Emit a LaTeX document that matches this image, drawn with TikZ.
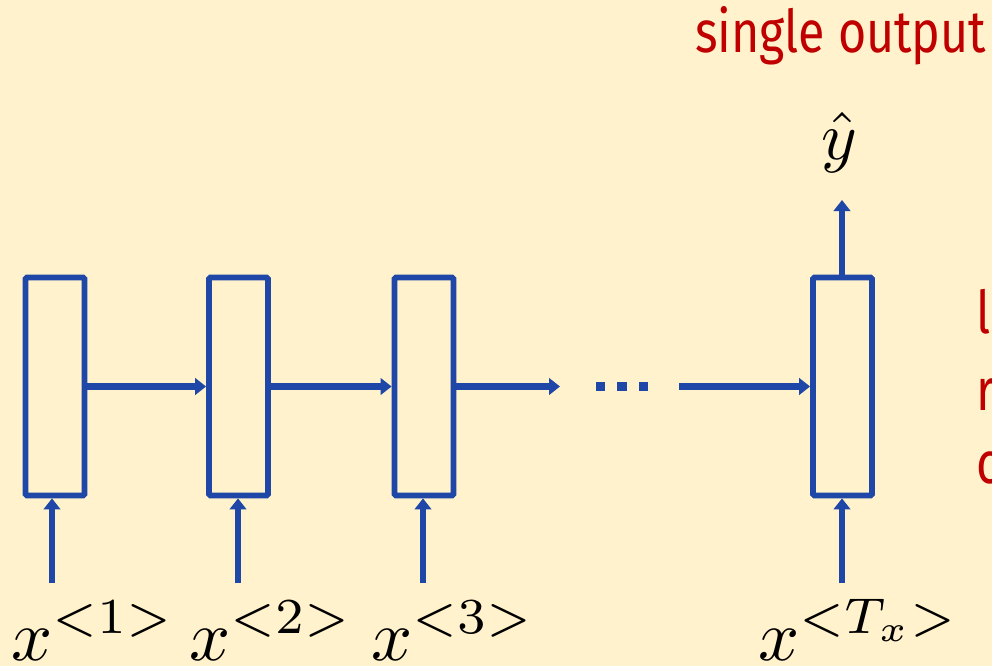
\documentclass[tikz,border=0pt]{standalone}
\usepackage{fontspec}
\newfontfamily\notefont[FakeStretch=0.82]{Fira Sans}
\usetikzlibrary{arrows.meta}
\definecolor{bgcream}{HTML}{FFF2CC}
\definecolor{rnnblue}{HTML}{1F47A8}
\definecolor{notered}{HTML}{C00000}
\begin{document}
\begin{tikzpicture}[x=1pt,y=-1pt,
  cell/.style={draw=rnnblue,line width=5.8pt,rounded corners=1.5pt,minimum width=59pt,minimum height=218pt,inner sep=0pt},
  flow/.style={draw=rnnblue,line width=6.2pt,-{Triangle[length=11pt,width=16.5pt]}},
  mathlbl/.style={inner sep=0pt,scale=7.2,anchor=base west},
  note/.style={text=notered,inner sep=0pt,anchor=base west,font=\notefont\fontsize{59}{70}\selectfont}]
\fill[bgcream] (0,0) rectangle (992,666);
\useasboundingbox (0,0) rectangle (992,666);
\clip (0,0) rectangle (992,666);

\node[cell] (b1) at (55,386.5) {};
\node[cell] (b2) at (238.5,386.5) {};
\node[cell] (b3) at (424,386.5) {};
\node[cell] (b4) at (842.5,386.5) {};

\draw[flow] (b1.east) -- (b2.west);
\draw[flow] (b2.east) -- (b3.west);
\coordinate (gapL) at (560,386.5);
\coordinate (gapR) at (679,386.5);
\draw[flow] (b3.east) -- (gapL);
\draw[flow] (gapR) -- (b4.west);
\foreach \cx in {600.5,622,643.5}
  \fill[rnnblue] (\cx-4.8,381.7) rectangle (\cx+4.8,391.3);

\coordinate (i1) at (52,583);
\coordinate (i2) at (238,583);
\coordinate (i3) at (423,583);
\coordinate (i4) at (842,583);
\draw[flow] (i1) -- (i1 |- b1.south);
\draw[flow] (i2) -- (i2 |- b2.south);
\draw[flow] (i3) -- (i3 |- b3.south);
\draw[flow] (i4) -- (i4 |- b4.south);

\node[mathlbl] (x1) at (10,660) {$x^{<1>}$};
\node[mathlbl] (x2) at (188,660) {$x^{<2>}$};
\node[mathlbl] (x3) at (370,660) {$x^{<3>}$};
\node[mathlbl] (x4) at (757,660) {$x^{<T_x>}$};

\node[inner sep=0pt,scale=6.8,anchor=base] (yhat) at (839,159) {$\hat{y}$};
\coordinate (ytip) at (842,200);
\draw[flow] (b4.north -| ytip) -- (ytip);

\node[note] (single) at (695,53) {single output};
\node[note] (n1) at (976,333) {l};
\node[note] (n2) at (976,410) {r};
\node[note] (n3) at (976,483) {c};
\end{tikzpicture}
\end{document}
